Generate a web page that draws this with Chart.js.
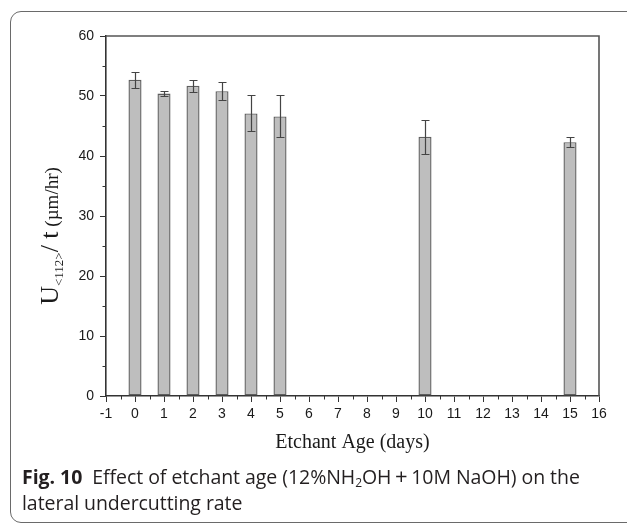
<!DOCTYPE html>
<html>
<head>
<meta charset="utf-8">
<script src="https://cdn.jsdelivr.net/npm/chart.js@4.4.1/dist/chart.umd.min.js"></script>
<style>
  html, body { margin: 0; padding: 0; background: #fff; }
  #page { position: relative; width: 627px; height: 525px; overflow: hidden; }
  #card {
    position: absolute; left: 10px; top: 11px; width: 640px; height: 512px;
    border: 1px solid #6a6a6a; border-radius: 11px; box-sizing: border-box;
  }
  #chart { position: absolute; left: 0; top: 0; }
  #caption {
    position: absolute; left: 22px; top: 464px; width: 578px;
    font-family: "Open Sans", "Noto Sans", sans-serif; font-size: 19.5px;
    line-height: 26px; color: #231f20; letter-spacing: -0.05px;
  }
  #caption b { font-weight: 700; }
  #caption sub { font-size: 12px; line-height: 0; vertical-align: -3px; }
  #caption .op { font-size: 22px; line-height: 0; }
</style>
</head>
<body>
<div id="page">
  <div id="card"></div>
  <canvas id="chart" width="627" height="525"></canvas>
  <div id="caption"><b>Fig. 10</b>&nbsp; Effect of etchant age (12%NH<sub>2</sub>OH<span class="op">&thinsp;+&thinsp;</span>10M NaOH) on the lateral undercutting rate</div>
</div>
<script>
// Etchant age (days) and measured lateral undercutting rate (µm/hr) with error bars
const ages = [0, 1, 2, 3, 4, 5, 10, 15];
const rates = [52.7, 50.4, 51.7, 50.8, 47.1, 46.6, 43.2, 42.3];
const errors = [1.3, 0.4, 1.0, 1.5, 3.0, 3.5, 2.8, 0.8];

// Axis ranges and tick spacing
const xRange = [-1, 16];
const yRange = [0, 60];
const xMajorStep = 1;
const yMajorStep = 10;

const axisColor = '#333333';
const tickFont = { family: '"Liberation Sans", Arial, sans-serif', size: 14 };

// Draws the frame, minor ticks, error bars and axis titles
const decorations = {
  id: 'decorations',
  afterDatasetsDraw(chart) {
    const { ctx, chartArea: a, scales: { x, y } } = chart;
    ctx.save();

    // top and right frame lines
    ctx.strokeStyle = '#555';
    ctx.lineWidth = 1.6;
    ctx.beginPath();
    ctx.moveTo(a.left, a.top);
    ctx.lineTo(a.right, a.top);
    ctx.lineTo(a.right, a.bottom);
    ctx.stroke();

    // minor ticks
    ctx.strokeStyle = axisColor;
    ctx.lineWidth = 1;
    ctx.beginPath();
    for (let v = xRange[0] + xMajorStep / 2; v < xRange[1]; v += xMajorStep) {
      const px = Math.round(x.getPixelForValue(v)) + 0.5;
      ctx.moveTo(px, a.bottom);
      ctx.lineTo(px, a.bottom + 3.5);
    }
    for (let v = yRange[0] + yMajorStep / 2; v < yRange[1]; v += yMajorStep) {
      const py = Math.round(y.getPixelForValue(v)) + 0.5;
      ctx.moveTo(a.left, py);
      ctx.lineTo(a.left - 3.5, py);
    }
    ctx.stroke();

    // error bars
    ctx.strokeStyle = '#444';
    ctx.lineWidth = 1.2;
    ctx.beginPath();
    ages.forEach((age, i) => {
      const px = Math.round(x.getPixelForValue(age)) + 0.5;
      const top = Math.round(y.getPixelForValue(rates[i] + errors[i])) + 0.5;
      const bot = Math.round(y.getPixelForValue(rates[i] - errors[i])) + 0.5;
      ctx.moveTo(px, top); ctx.lineTo(px, bot);
      ctx.moveTo(px - 4, top); ctx.lineTo(px + 4, top);
      ctx.moveTo(px - 4, bot); ctx.lineTo(px + 4, bot);
    });
    ctx.stroke();

    // x axis title
    ctx.fillStyle = '#1a1a1a';
    ctx.textAlign = 'center';
    ctx.textBaseline = 'alphabetic';
    ctx.font = '20px "Liberation Serif", "Times New Roman", serif';
    ctx.fillText('Etchant Age (days)', (a.left + a.right) / 2, 448);

    // y axis title, rotated, with subscript
    const parts = [
      { t: 'U', f: '26px "Liberation Serif", serif', dy: 0 },
      { t: '<112>', f: '13px "Liberation Serif", serif', dy: 5 },
      { t: '/ t', f: '26px "Liberation Serif", serif', dy: 0 },
      { t: ' (µm/hr)', f: '19px "Liberation Serif", serif', dy: 0 }
    ];
    let total = 0;
    parts.forEach(p => { ctx.font = p.f; p.w = ctx.measureText(p.t).width; total += p.w; });
    ctx.translate(58, 236);
    ctx.rotate(-Math.PI / 2);
    ctx.textAlign = 'left';
    let cx = -total / 2;
    parts.forEach(p => {
      ctx.font = p.f;
      ctx.fillText(p.t, cx, p.dy);
      cx += p.w;
    });

    ctx.restore();
  }
};

new Chart(document.getElementById('chart'), {
  type: 'bar',
  data: {
    datasets: [{
      data: ages.map((a, i) => ({ x: a, y: rates[i] })),
      backgroundColor: '#bebebe',
      borderColor: '#5e5e5e',
      borderWidth: 1.4,
      borderSkipped: false,
      barPercentage: 0.45,
      categoryPercentage: 1
    }]
  },
  options: {
    responsive: false,
    animation: false,
    events: [],
    layout: { padding: { top: 36, right: 28, left: 0, bottom: 0 } },
    plugins: { legend: { display: false }, tooltip: { enabled: false } },
    scales: {
      x: {
        type: 'linear',
        min: xRange[0], max: xRange[1],
        offset: false,
        afterFit: s => { s.height = 129; },
        ticks: { stepSize: xMajorStep, color: '#1a1a1a', font: tickFont, padding: 4, maxRotation: 0, autoSkip: false },
        grid: { offset: false, drawOnChartArea: false, drawTicks: true, tickLength: 6, color: axisColor, lineWidth: 1 },
        border: { display: true, color: axisColor, width: 1.6 }
      },
      y: {
        min: yRange[0], max: yRange[1],
        afterFit: s => { s.width = 106; },
        ticks: { stepSize: yMajorStep, color: '#1a1a1a', font: tickFont, padding: 6 },
        grid: { drawOnChartArea: false, drawTicks: true, tickLength: 6, color: axisColor, lineWidth: 1 },
        border: { display: true, color: axisColor, width: 1.6 }
      }
    }
  },
  plugins: [decorations]
});
</script>
</body>
</html>
